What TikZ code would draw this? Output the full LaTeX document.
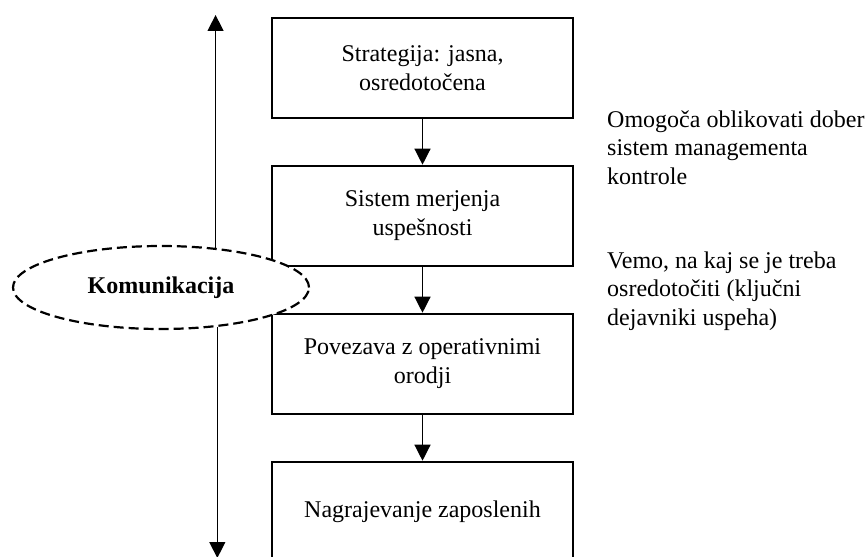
\documentclass[tikz,border=0pt]{standalone}
\usepackage{fontspec}
\setmainfont{Liberation Serif}
\usetikzlibrary{arrows.meta,shapes.geometric}
\begin{document}
\begin{tikzpicture}[x=1pt,y=-1pt,
  box/.style={draw, line width=2.6pt, minimum width=301pt, minimum height=100pt,
    align=center, inner sep=0pt, font=\fontsize{24}{29}\selectfont},
  arr/.style={line width=1.3pt, -{Triangle[width=16pt,length=16pt]}},
  note/.style={align=left, anchor=north west, inner sep=0pt,
    font=\fontsize{24}{28.5}\selectfont},
  komstyle/.style={ellipse, draw, fill=white, line width=2.2pt,
    dash pattern=on 10pt off 5pt, minimum width=296pt, minimum height=83pt,
    inner sep=0pt, font=\bfseries\fontsize{24}{29}\selectfont}
]
\useasboundingbox (0,0) rectangle (866,556);
\clip (0,0) rectangle (866,556);

\node[box] (b1) at (422.5,68) {Strategija: jasna,\\osredotočena};
\node[box] (b2) at (422.5,216) {Sistem merjenja\\uspešnosti};
\node[box] (b3) at (422.5,364) {Povezava z operativnimi\\orodji};
\node[box] (b4) at (422.5,512) {Nagrajevanje zaposlenih};

\draw[arr] (b1) -- (b2);
\draw[arr] (b2) -- (b3);
\draw[arr] (b3) -- (b4);

\node[komstyle] (kom) at (161,287.5) {Komunikacija};

\coordinate (ctop) at (215,15);
\coordinate (cbot) at (216,558);
\draw[arr] (kom.36) -- (kom.36 |- ctop);
\draw[arr] (kom.-35) -- (kom.-35 |- cbot);

\node[note] (n1) at (607,110.5) {Omogoča oblikovati dober\\sistem managementa\\kontrole};
\node[note] (n2) at (607,251.5) {Vemo, na kaj se je treba\\osredotočiti (ključni\\dejavniki uspeha)};
\end{tikzpicture}
\end{document}
